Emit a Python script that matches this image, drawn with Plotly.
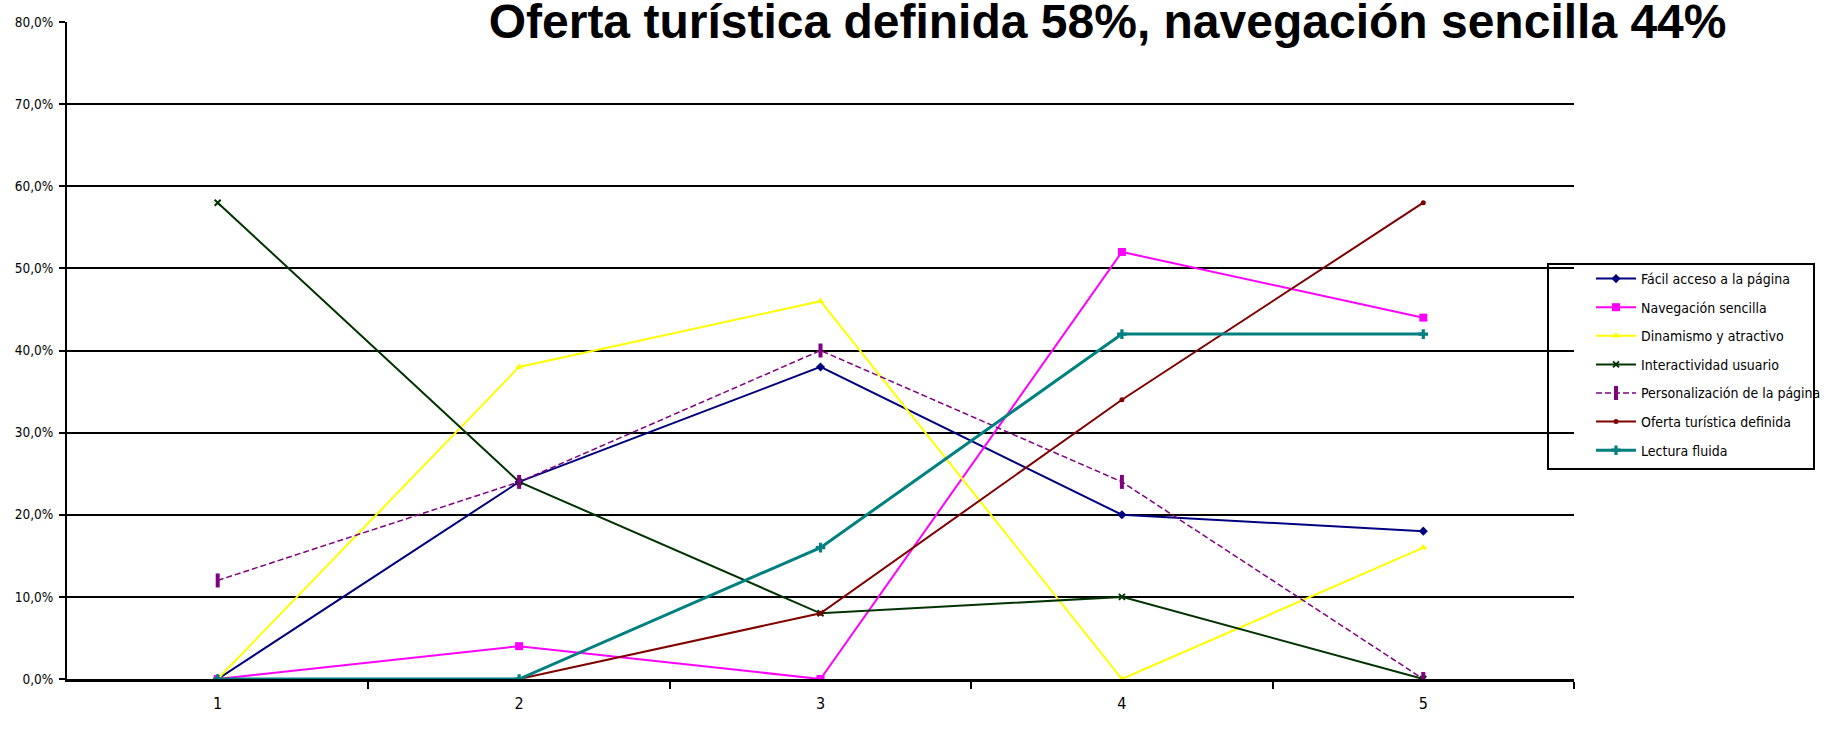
import plotly.graph_objects as go

# Survey ratings (1-5) per website attribute, share of respondents in %
ratings = [1, 2, 3, 4, 5]

facil_acceso = [0, 24, 38, 20, 18]
navegacion = [0, 4, 0, 52, 44]
dinamismo = [0, 38, 46, 0, 16]
interactividad = [58, 24, 8, 10, 0]
personalizacion = [12, 24, 40, 24, 0]
oferta = [0, 0, 8, 34, 58]
lectura = [0, 0, 16, 42, 42]

series_names = [
    "Fácil acceso a la página",
    "Navegación sencilla",
    "Dinamismo y atractivo",
    "Interactividad usuario",
    "Personalización de la página",
    "Oferta turística definida",
    "Lectura fluida",
]

y_ticks = [0, 10, 20, 30, 40, 50, 60, 70, 80]
y_ticktext = ["%d,0%%" % v for v in y_ticks]
grid_ticks = [10, 20, 30, 40, 50, 60, 70]
x_boundaries = [1.5, 2.5, 3.5, 4.5, 5.5]

title_text = "Oferta turística definida 58%, navegación sencilla 44%"

NARROW = "Liberation Sans Narrow, Arial Narrow, DejaVu Sans Condensed, Liberation Sans, Arial, sans-serif"

styles = [
    dict(color="#000080", width=2, dash="solid", symbol="diamond", size=7, mlw=0),
    dict(color="#FF00FF", width=2, dash="solid", symbol="square", size=8, mlw=0),
    dict(color="#FFFF00", width=2, dash="solid", symbol="triangle-up", size=7, mlw=0),
    dict(color="#003300", width=2, dash="solid", symbol="x-thin-open", size=6, mlw=2),
    dict(color="#800080", width=1.5, dash="6px,3px", symbol="line-ns-open", size=10, mlw=4),
    dict(color="#800000", width=2, dash="solid", symbol="circle", size=5, mlw=0),
    dict(color="#008080", width=3, dash="solid", symbol="cross", size=8, mlw=0),
]

values = [facil_acceso, navegacion, dinamismo, interactividad,
          personalizacion, oferta, lectura]

fig = go.Figure()
for i, (name, vals, st) in enumerate(zip(series_names, values, styles)):
    marker = dict(symbol=st["symbol"], size=st["size"], color=st["color"])
    if st["mlw"]:
        marker["line"] = dict(color=st["color"], width=st["mlw"])
    fig.add_trace(go.Scatter(
        x=ratings, y=vals, name=name, mode="lines+markers",
        legendgroup="g%d" % i,
        line=dict(color=st["color"], width=st["width"], dash=st["dash"]),
        marker=marker,
    ))

# paper coordinates of the plot area: x 67..1574 px, y 22..679 px
PW, PH, PL, PB = 1507.0, 657.0, 67.0, 679.0


def px_x(v):
    return (v - PL) / PW


def px_y(v):
    return (PB - v) / PH


fig.update_layout(
    width=1846, height=750,
    margin=dict(l=67, r=272, t=22, b=71, autoexpand=False),
    paper_bgcolor="white", plot_bgcolor="white",
    showlegend=True,
    title=dict(
        text=title_text, x=0.6, xanchor="center", xref="container",
        y=0.9716, yanchor="middle", yref="container",
        font=dict(family="Liberation Sans, Arial, sans-serif", size=48,
                  color="black", weight="bold"),
    ),
    xaxis=dict(
        range=[0.5, 5.5], tickvals=ratings, ticktext=[str(r) for r in ratings],
        ticks="", showgrid=False, zeroline=False,
        showline=True, linecolor="black", linewidth=3,
        layer="below traces",
        tickfont=dict(family=NARROW, size=16, color="black"),
        ticklabelstandoff=8,
        minor=dict(tickvals=x_boundaries, ticks="outside", ticklen=7,
                   tickwidth=1.5, tickcolor="black", showgrid=False),
    ),
    yaxis=dict(
        range=[0, 80], tickvals=y_ticks, ticktext=y_ticktext,
        ticks="outside", ticklen=6, tickwidth=1.5, tickcolor="black",
        showgrid=False, zeroline=False,
        showline=True, linecolor="black", linewidth=2,
        layer="below traces",
        tickfont=dict(family=NARROW, size=13.5, color="black"),
        ticklabelstandoff=3,
        minor=dict(tickvals=grid_ticks, showgrid=True, gridcolor="black",
                   gridwidth=2, ticks=""),
    ),
    legend=dict(
        x=px_x(1591), y=px_y(263), xanchor="left", yanchor="top",
        xref="paper", yref="paper",
        bgcolor="rgba(0,0,0,0)", borderwidth=0,
        font=dict(family=NARROW, size=14, color="black"),
        traceorder="grouped", tracegroupgap=7.4, itemwidth=40,
    ),
    shapes=[dict(
        type="rect", xref="paper", yref="paper",
        x0=px_x(1548), x1=px_x(1814), y0=px_y(469), y1=px_y(264),
        line=dict(color="black", width=2), fillcolor="white", layer="below",
    )],
)

fig.write_html("out.html")
